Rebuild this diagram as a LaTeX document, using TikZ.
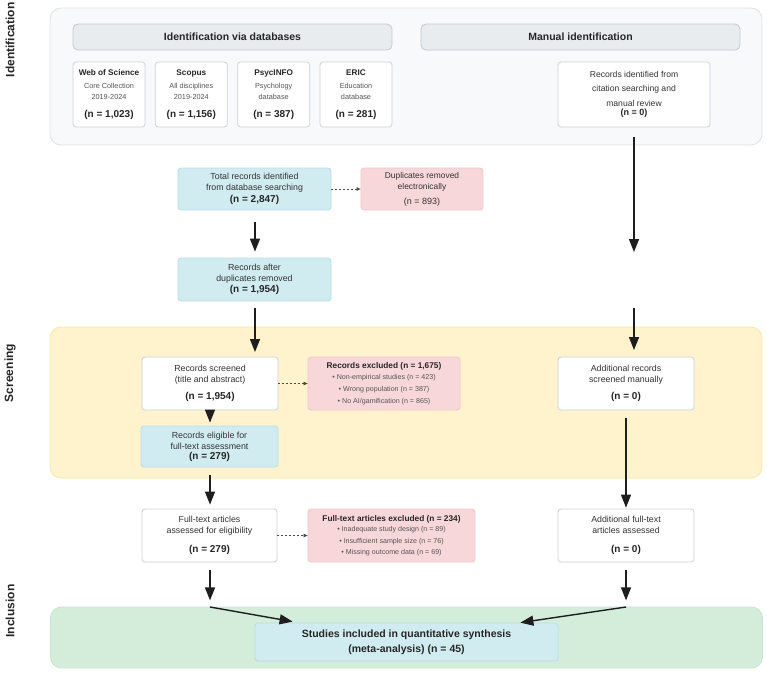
\documentclass[tikz,border=0pt]{standalone}
\usepackage{fontspec}
\setmainfont{Liberation Sans}
\usetikzlibrary{arrows.meta,calc}
\definecolor{identfill}{HTML}{F8F9FA}
\definecolor{identdraw}{HTML}{DEE2E6}
\definecolor{hdrfill}{HTML}{E9ECEF}
\definecolor{hdrdraw}{HTML}{C4C9CE}
\definecolor{boxdraw}{HTML}{CDD1D6}
\definecolor{bluefill}{HTML}{D1ECF1}
\definecolor{bluedraw}{HTML}{B6DDE6}
\definecolor{pinkfill}{HTML}{F8D7DA}
\definecolor{pinkdraw}{HTML}{F2C4C9}
\definecolor{yelfill}{HTML}{FFF3CD}
\definecolor{yeldraw}{HTML}{FBE6A6}
\definecolor{grnfill}{HTML}{D4EDDA}
\definecolor{grndraw}{HTML}{C3E6CB}
\definecolor{txt}{HTML}{333333}
\definecolor{subtxt}{HTML}{555555}
\definecolor{arr}{HTML}{1E1E1E}
\newcommand\nbfont{\fontsize{10}{12}\selectfont\bfseries\color{black!85}}
\begin{document}
\begin{tikzpicture}[x=1pt,y=-1pt,
  band/.style={rounded corners=11pt, line width=0.8pt, inner sep=0pt},
  hdr/.style={draw=hdrdraw, fill=hdrfill, rounded corners=5pt, line width=0.8pt, inner sep=0pt,
    font=\fontsize{10.5}{12}\selectfont\bfseries, text=black!85, minimum height=26pt},
  box/.style={draw=boxdraw, fill=white, rounded corners=3pt, line width=0.8pt, inner sep=0pt,
    align=center, text=txt, font=\fontsize{8.8}{11}\selectfont},
  bluebox/.style={box, draw=bluedraw, fill=bluefill},
  pinkbox/.style={box, draw=pinkdraw, fill=pinkfill},
  dbbox/.style={box, minimum width=72pt, minimum height=65pt, font=\fontsize{7.3}{11}\selectfont, text=subtxt},
  lane/.style={rotate=90, font=\fontsize{12}{14}\selectfont\bfseries, text=black!85, inner sep=0pt},
  flow/.style={draw=arr, line width=1.4pt, -{Triangle[length=13pt,width=10pt]}},
  dflow/.style={draw=arr!80, line width=0.7pt, dash pattern=on 2pt off 2pt, -{Triangle[length=4pt,width=3.5pt]}},
]
\useasboundingbox (0,0) rectangle (767,672);

% bands
\node[band, draw=identdraw, fill=identfill, minimum width=712pt, minimum height=137pt] (identband) at (406,76.5) {};
\node[band, draw=yeldraw, fill=yelfill, minimum width=712pt, minimum height=151pt] (scrband) at (406,402.5) {};
\node[band, draw=grndraw, fill=grnfill, minimum width=712pt, minimum height=61pt] (incband) at (406.5,637.5) {};

% lane labels
\node[lane] (labident) at (10,40) {Identification};
\node[lane] (labscr) at (10,373) {Screening};
\node[lane] (labinc) at (10,611) {Inclusion};

% headers
\node[hdr, minimum width=319pt] (hdrdb) at (232.5,37) {Identification via databases};
\node[hdr, minimum width=319pt] (hdrman) at (580.5,37) {Manual identification};

% databases
\node[dbbox] (wos) at (109,94.5) {{\fontsize{8.2}{10}\selectfont\bfseries\color{black!85}Web of Science}\\[2pt]Core Collection\\2019-2024\\[7pt]{\nbfont(n = 1,023)}};
\node[dbbox] (scopus) at (191.3,94.5) {{\fontsize{8.2}{10}\selectfont\bfseries\color{black!85}Scopus}\\[2pt]All disciplines\\2019-2024\\[7pt]{\nbfont(n = 1,156)}};
\node[dbbox] (psyc) at (273.7,94.5) {{\fontsize{8.2}{10}\selectfont\bfseries\color{black!85}PsycINFO}\\[2pt]Psychology\\database\\[7pt]{\nbfont(n = 387)}};
\node[dbbox] (eric) at (356,94.5) {{\fontsize{8.2}{10}\selectfont\bfseries\color{black!85}ERIC}\\[2pt]Education\\database\\[7pt]{\nbfont(n = 281)}};

\node[box, minimum width=152pt, minimum height=65pt, font=\fontsize{8.6}{14.5}\selectfont] (manual) at (634,94.5)
  {Records identified from\\citation searching and\\manual review\\[-5pt]{\fontsize{9}{11}\selectfont\bfseries\color{black!85}(n = 0)}};

% left flow
\node[bluebox, minimum width=153pt, minimum height=42pt] (total) at (254.5,189)
  {Total records identified\\from database searching\\[0.5pt]{\nbfont(n = 2,847)}};
\node[pinkbox, minimum width=122pt, minimum height=42pt, font=\fontsize{8.4}{11}\selectfont] (dup) at (422,189)
  {Duplicates removed\\electronically\\[4pt]{\fontsize{9}{11}\selectfont(n = 893)}};
\node[bluebox, minimum width=153pt, minimum height=43pt] (afterdup) at (254.5,279.5)
  {Records after\\duplicates removed\\[0pt]{\nbfont(n = 1,954)}};

\node[box, minimum width=136pt, minimum height=53pt] (screened) at (210,383.5)
  {Records screened\\(title and abstract)\\[6pt]{\nbfont(n = 1,954)}};
\node[pinkbox, minimum width=152pt, minimum height=53pt, font=\fontsize{7.1}{12}\selectfont, text=subtxt] (excl1) at (384,383.5)
  {{\fontsize{8.3}{10}\selectfont\bfseries\color{black!85}Records excluded (n = 1,675)}\\[-1pt]• Non-empirical studies (n = 423)\\• Wrong population (n = 387)\\• No AI/gamification (n = 865)};
\node[bluebox, minimum width=137pt, minimum height=41pt] (eligible) at (209.5,446.5)
  {Records eligible for\\full-text assessment\\[-1pt]{\nbfont(n = 279)}};

\node[box, minimum width=135pt, minimum height=53pt] (fulltext) at (209.5,535.5)
  {Full-text articles\\assessed for eligibility\\[8pt]{\nbfont(n = 279)}};
\node[pinkbox, minimum width=167pt, minimum height=53pt, font=\fontsize{7.1}{11.5}\selectfont, text=subtxt] (excl2) at (391.5,535.5)
  {{\fontsize{8.3}{10}\selectfont\bfseries\color{black!85}Full-text articles excluded (n = 234)}\\[-1pt]• Inadequate study design (n = 89)\\• Insufficient sample size (n = 76)\\• Missing outcome data (n = 69)};

% right flow
\node[box, minimum width=136pt, minimum height=53pt] (addscr) at (626,383.5)
  {Additional records\\screened manually\\[6pt]{\nbfont(n = 0)}};
\node[box, minimum width=136pt, minimum height=53pt] (addfull) at (626,535.5)
  {Additional full-text\\articles assessed\\[8pt]{\nbfont(n = 0)}};

% final
\node[bluebox, minimum width=303pt, minimum height=38pt, font=\fontsize{10.5}{15}\selectfont\bfseries, text=black!85] (final) at (406.5,642)
  {Studies included in quantitative synthesis\\(meta-analysis) (n = 45)};

% coordinates
\coordinate (m1) at ($(manual.south)+(0,10)$);
\coordinate (m2) at (634,252);
\coordinate (m3) at (634,308);
\coordinate (m4) at (634,350);
\coordinate (l1) at (255,308);
\coordinate (l2) at (255,352);
\coordinate (j1) at (210,607);
\coordinate (j2) at (626,607);

% arrows
\draw[flow] (m1) -- (m2);
\draw[flow] (m3) -- (m4);
\draw[flow] ($(total.south)+(0.5,12)$) -- ($(afterdup.north)+(0.5,-6)$);
\draw[flow] (l1) -- (l2);
\draw[flow] (screened.south) -- ($(eligible.north)+(0.5,-3)$);
\draw[flow] ($(eligible.south)+(0.5,8)$) -- ($(fulltext.north)+(0.5,-4)$);
\draw[flow] ($(fulltext.south)+(0.5,8)$) -- ($(fulltext.south)+(0.5,38)$);
\draw[flow] (j1) -- ($(final.north west)+(38,-1)$);
\draw[flow] ($(addscr.south)+(0,8)$) -- ($(addfull.north)+(0,-1)$);
\draw[flow] ($(addfull.south)+(0,8)$) -- ($(addfull.south)+(0,38)$);
\draw[flow] (j2) -- ($(final.north east)+(-38,0)$);

\draw[dflow] (total.east) -- (dup.west);
\draw[dflow] (screened.east) -- (excl1.west);
\draw[dflow] (fulltext.east) -- (excl2.west);
\end{tikzpicture}
\end{document}
